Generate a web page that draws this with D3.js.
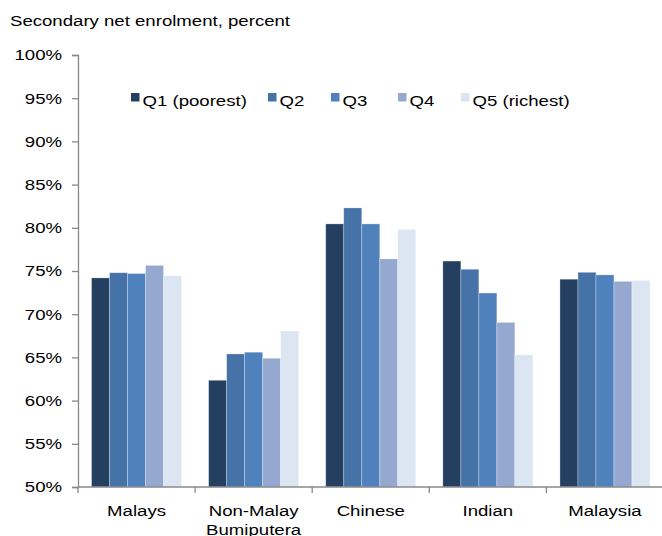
<!DOCTYPE html>
<html>
<head>
<meta charset="utf-8">
<script src="https://cdn.jsdelivr.net/npm/d3@7"></script>
<style>
  html, body { margin: 0; padding: 0; background: #fff; }
  svg { display: block; font-family: "Liberation Sans", Arial, sans-serif; }
</style>
</head>
<body>
<svg id="chart" width="662" height="536"></svg>
<script>
const categories = [["Malays"], ["Non-Malay", "Bumiputera"], ["Chinese"], ["Indian"], ["Malaysia"]];
const seriesNames = ["Q1 (poorest)", "Q2", "Q3", "Q4", "Q5 (richest)"];
const seriesColors = ["#243F60", "#4572A7", "#4F81BD", "#95A9D0", "#DCE5F2"];
const q1 = [74.2, 62.35, 80.45, 76.15, 74.05];
const q2 = [74.8, 65.4, 82.3, 75.2, 74.85];
const q3 = [74.7, 65.6, 80.45, 72.45, 74.55];
const q4 = [75.65, 64.9, 76.4, 69.05, 73.8];
const q5 = [74.45, 68.05, 79.8, 65.3, 73.9];
const yTicks = [50, 55, 60, 65, 70, 75, 80, 85, 90, 95, 100];
const title = "Secondary net enrolment, percent";

const series = [q1, q2, q3, q4, q5];
const FS = 15.5, SX = 1.2;
const svg = d3.select("#chart");
const W = 662;
const left = 78;
const x0 = d3.scaleBand().domain(d3.range(categories.length)).range([left, 663.5]).padding(0);
const groupW = 90;
const x1 = d3.scaleBand().domain(d3.range(series.length)).range([0, groupW]).padding(0);
const y = d3.scaleLinear().domain([50, 100]).range([487, 55]);

function stretchedText(parent, x, yy, anchor) {
  return parent.append("text")
    .attr("transform", `translate(${x},${yy}) scale(${SX},1)`)
    .attr("text-anchor", anchor || "start")
    .attr("font-size", FS).attr("fill", "#000");
}

// title
stretchedText(svg, 10, 26).text(title);

// y axis
const yAxis = svg.append("g").attr("transform", `translate(${left},0)`)
  .call(d3.axisLeft(y).tickValues(yTicks).tickFormat(d => d + "%").tickSize(6).tickPadding(10));
yAxis.select(".domain").attr("stroke", "#888").attr("stroke-width", 1.3);
yAxis.selectAll(".tick line").attr("stroke", "#888").attr("stroke-width", 1.3);
yAxis.selectAll(".tick text")
  .attr("font-size", FS).attr("fill", "#000")
  .attr("font-family", "Liberation Sans, Arial, sans-serif")
  .attr("x", -16 / SX)
  .attr("transform", `scale(${SX},1)`);

// bars
const groups = svg.append("g").selectAll("g").data(categories).join("g")
  .attr("transform", (d, i) => `translate(${x0(i) + (x0.bandwidth() - groupW) / 2},0)`);
groups.selectAll("rect").data((d, i) => series.map((s, k) => ({ k, v: s[i] }))).join("rect")
  .attr("x", d => x1(d.k))
  .attr("width", x1.bandwidth())
  .attr("y", d => y(d.v))
  .attr("height", d => y(50) - y(d.v))
  .attr("fill", d => seriesColors[d.k])
  .attr("stroke", "rgba(255,255,255,0.35)")
  .attr("stroke-width", 0.8);

// x axis
const xAxisG = svg.append("g").attr("transform", `translate(0,${y(50)})`);
xAxisG.append("line").attr("x1", left).attr("x2", W).attr("y1", 0).attr("y2", 0)
  .attr("stroke", "#888").attr("stroke-width", 1.5);
const boundaries = d3.range(categories.length).map(i => x0(i)).concat([x0(categories.length - 1) + x0.bandwidth()]);
xAxisG.selectAll("line.tk").data(boundaries.filter(b => b <= W)).join("line").attr("class", "tk")
  .attr("x1", d => d).attr("x2", d => d).attr("y1", 0).attr("y2", 6)
  .attr("stroke", "#888").attr("stroke-width", 1.3);
categories.forEach((lines, i) => {
  const t = stretchedText(xAxisG, x0(i) + x0.bandwidth() / 2, 29, "middle");
  t.selectAll("tspan").data(lines).join("tspan")
    .attr("x", 0)
    .attr("dy", (d, j) => j === 0 ? 0 : 19.5)
    .text(d => d);
});

// legend
const legendX = [131, 268, 331, 398, 461];
seriesNames.forEach((name, i) => {
  svg.append("rect").attr("x", legendX[i]).attr("y", 93).attr("width", 8.5).attr("height", 8.5)
    .attr("fill", seriesColors[i]);
  stretchedText(svg, legendX[i] + 11.5, 106).text(name);
});
</script>
</body>
</html>
